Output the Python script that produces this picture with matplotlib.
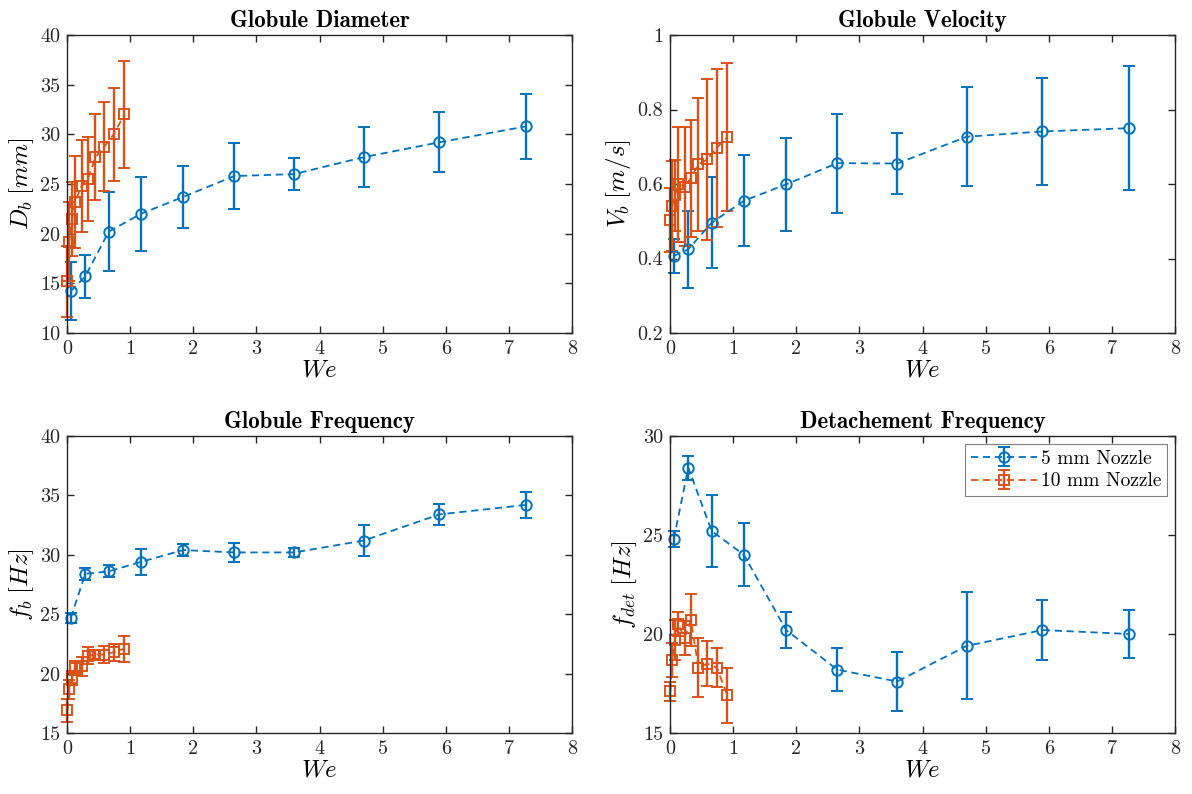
import matplotlib
matplotlib.use("Agg")
import matplotlib.pyplot as plt
import numpy as np

# ---------------- data ----------------
we_5mm = [0.06, 0.29, 0.66, 1.17, 1.84, 2.65, 3.6, 4.7, 5.9, 7.27]
we_10mm = [0.005, 0.035, 0.08, 0.13, 0.23, 0.33, 0.45, 0.59, 0.74, 0.91]

Db_5mm = [14.2, 15.7, 20.2, 22.0, 23.7, 25.8, 26.0, 27.7, 29.2, 30.8]
Db_5mm_err = [2.9, 2.2, 4.0, 3.7, 3.1, 3.3, 1.6, 3.0, 3.0, 3.3]
Db_10mm = [15.2, 19.2, 21.5, 23.2, 24.8, 25.5, 27.7, 28.75, 30.0, 32.0]
Db_10mm_err = [3.6, 4.0, 3.7, 4.6, 4.6, 4.2, 4.3, 4.5, 4.65, 5.4]

Vb_5mm = [0.407, 0.425, 0.496, 0.555, 0.599, 0.656, 0.655, 0.727, 0.741, 0.75]
Vb_5mm_err = [0.045, 0.103, 0.122, 0.122, 0.124, 0.133, 0.082, 0.133, 0.143, 0.166]
Vb_10mm = [0.503, 0.541, 0.57, 0.599, 0.593, 0.615, 0.653, 0.666, 0.697, 0.727]
Vb_10mm_err = [0.085, 0.12, 0.095, 0.155, 0.16, 0.157, 0.179, 0.217, 0.212, 0.199]

fb_5mm = [24.7, 28.4, 28.6, 29.4, 30.4, 30.2, 30.2, 31.2, 33.4, 34.2]
fb_5mm_err = [0.4, 0.5, 0.5, 1.1, 0.5, 0.8, 0.4, 1.3, 0.9, 1.1]
fb_10mm = [16.9, 18.7, 19.6, 20.5, 20.6, 21.5, 21.6, 21.6, 21.8, 22.1]
fb_10mm_err = [1.0, 0.8, 0.6, 0.6, 0.8, 0.7, 0.4, 0.7, 0.7, 1.1]

fdet_5mm = [24.8, 28.4, 25.2, 24.0, 20.2, 18.2, 17.6, 19.4, 20.2, 20.0]
fdet_5mm_err = [0.4, 0.6, 1.8, 1.6, 0.9, 1.1, 1.5, 2.7, 1.5, 1.2]
fdet_10mm = [17.1, 18.7, 19.7, 20.5, 19.8, 20.7, 18.3, 18.5, 18.3, 16.9]
fdet_10mm_err = [0.5, 0.85, 1.0, 0.6, 0.85, 1.33, 1.5, 1.15, 0.97, 1.4]

titles = ["Globule Diameter", "Globule Velocity", "Globule Frequency", "Detachement Frequency"]
ylabels = [r"$D_b\;[mm]$", r"$V_b\;[m/s]$", r"$f_b\;[Hz]$", r"$f_{det}\;[Hz]$"]
ylims = [(10, 40), (0.2, 1.0), (15, 40), (15, 30)]
yticks = [[10, 15, 20, 25, 30, 35, 40], [0.2, 0.4, 0.6, 0.8, 1.0],
          [15, 20, 25, 30, 35, 40], [15, 20, 25, 30]]
ytick_labels = [["10", "15", "20", "25", "30", "35", "40"], ["0.2", "0.4", "0.6", "0.8", "1"],
                ["15", "20", "25", "30", "35", "40"], ["15", "20", "25", "30"]]
legend_labels = ["5 mm Nozzle", "10 mm Nozzle"]

series_5 = [(Db_5mm, Db_5mm_err), (Vb_5mm, Vb_5mm_err), (fb_5mm, fb_5mm_err), (fdet_5mm, fdet_5mm_err)]
series_10 = [(Db_10mm, Db_10mm_err), (Vb_10mm, Vb_10mm_err), (fb_10mm, fb_10mm_err), (fdet_10mm, fdet_10mm_err)]

# ---------------- style ----------------
plt.rcParams['mathtext.fontset'] = 'cm'
plt.rcParams['font.family'] = ['cmr10', 'DejaVu Serif']
plt.rcParams['axes.formatter.use_mathtext'] = True

blue = "#0072BD"
orange = "#D95319"
axcol = "#262626"

fig = plt.figure(figsize=(11.92, 7.94), dpi=100)
W, H = 1192, 794
boxes = [(67, 35, 572, 333), (670, 35, 1175, 333), (67, 436, 572, 733), (670, 436, 1175, 733)]

for i, (x0, y0, x1, y1) in enumerate(boxes):
    ax = fig.add_axes([x0 / W, 1 - y1 / H, (x1 - x0) / W, (y1 - y0) / H])
    y5, e5 = series_5[i]
    y10, e10 = series_10[i]
    h1 = ax.errorbar(we_5mm, y5, yerr=e5, color=blue, ls='--', lw=1.3, marker='o', ms=7.5,
                     mfc='none', mew=1.4, capsize=4, elinewidth=1.7, capthick=1.7, zorder=3,
                     dashes=(4.0, 2.6))
    h2 = ax.errorbar(we_10mm, y10, yerr=e10, color=orange, ls='--', lw=1.3, marker='s', ms=6.5,
                     mfc='none', mew=1.4, capsize=4, elinewidth=1.7, capthick=1.7, zorder=3,
                     dashes=(4.0, 2.6))
    for h in (h1, h2):
        h[0].set_clip_on(False)
        for art in h[1]:
            art.set_clip_on(False)
        for art in h[2]:
            art.set_clip_on(False)
    ax.set_xlim(0, 8)
    ax.set_ylim(*ylims[i])
    ax.set_xticks(range(9))
    ax.set_xticklabels([str(k) for k in range(9)])
    ax.set_yticks(yticks[i])
    ax.set_yticklabels(ytick_labels[i])
    ax.tick_params(direction='in', top=True, right=True, length=5, width=1.0,
                   labelsize=14.5, colors=axcol, pad=5)
    for s in ax.spines.values():
        s.set_color(axcol)
        s.set_linewidth(1.0)
        s.set_zorder(5)
    ax.set_title(titles[i], fontfamily=['cmb10', 'DejaVu Serif'], fontsize=16.5, pad=6)
    ax.set_xlabel(r"$We$", fontsize=18, labelpad=1)
    ax.set_ylabel(ylabels[i], fontsize=18, labelpad=3)
    if i == 3:
        leg = ax.legend([h1, h2], legend_labels, loc='upper right', fontsize=14,
                        frameon=True, fancybox=False, edgecolor='#808080',
                        borderaxespad=0.4, handlelength=3.4, handletextpad=0.2,
                        borderpad=0.3, labelspacing=0.25, framealpha=1)
        leg.get_frame().set_linewidth(0.8)

fig.savefig("out.png", dpi=100)
